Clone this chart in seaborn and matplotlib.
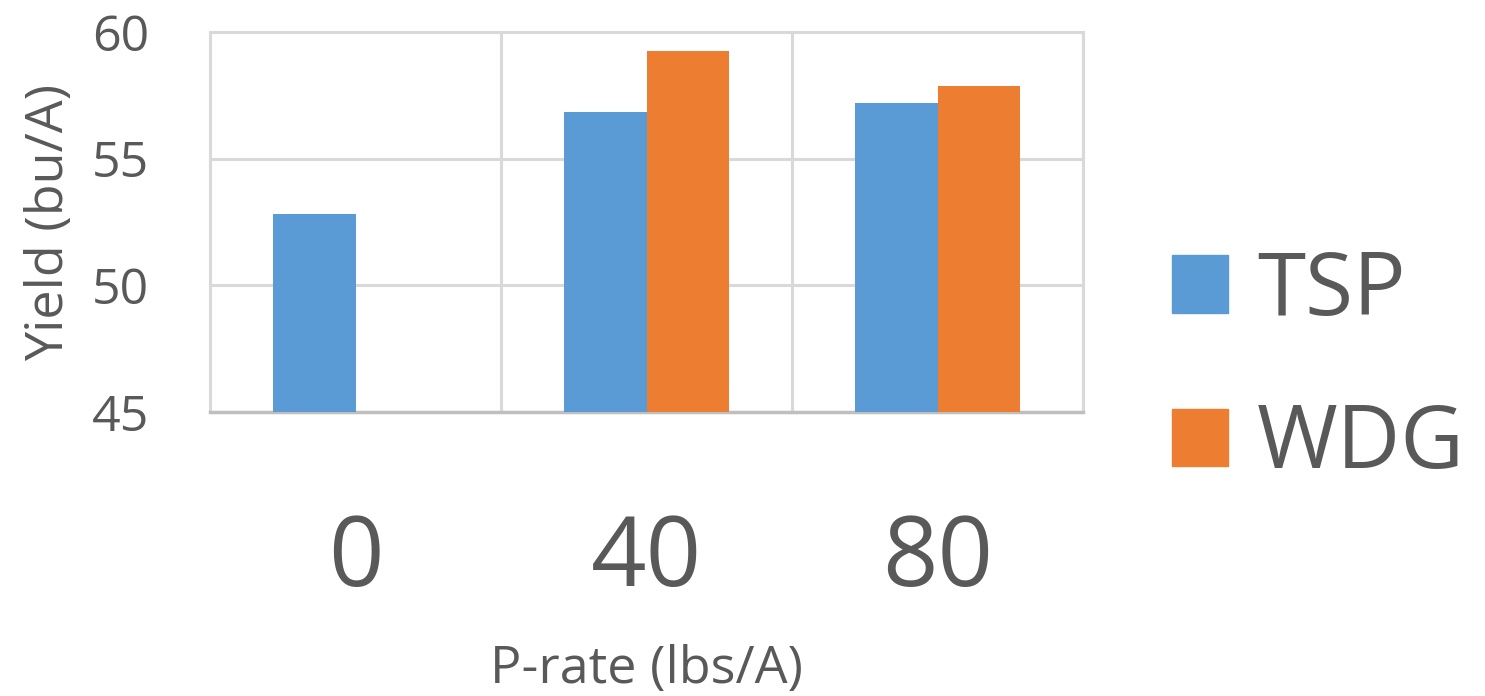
import matplotlib
matplotlib.use("Agg")
import matplotlib.pyplot as plt
import seaborn as sns
import pandas as pd
import numpy as np

categories = ["0", "40", "80"]
tsp = [52.8, 56.85, 57.2]
wdg = [np.nan, 59.25, 57.85]
series = ["TSP", "WDG"]
colors = ["#5B9BD5", "#ED7D31"]
yticks = [45, 50, 55, 60]

sns.set_theme(style="white")
plt.rcParams["font.family"] = ["Open Sans", "DejaVu Sans"]
txt = "#595959"

df = pd.DataFrame({
    "rate": categories * 2,
    "series": [series[0]] * 3 + [series[1]] * 3,
    "yield": tsp + wdg,
})

fig = plt.figure(figsize=(14.85, 6.96), dpi=100)
ax = fig.add_axes([210 / 1485, 1 - 412 / 696, (1083 - 210) / 1485, (412 - 32) / 696])

sns.barplot(data=df, x="rate", y="yield", hue="series", order=categories,
            hue_order=series, palette=colors, width=0.57, linewidth=0,
            saturation=1, errorbar=None, ax=ax, zorder=3)

ax.set_ylim(45, 60)
ax.set_xlim(-0.5, 2.5)
ax.set_yticks(yticks)
ax.set_yticklabels([str(v) for v in yticks])

grid_c = "#d9d9d9"
for y in [50, 55]:
    ax.axhline(y, color=grid_c, lw=2.2, zorder=1)
for x in [0.5, 1.5]:
    ax.axvline(x, color=grid_c, lw=2.2, zorder=1)

for s in ["top", "right", "left"]:
    ax.spines[s].set_visible(True)
    ax.spines[s].set_color(grid_c)
    ax.spines[s].set_linewidth(2.2)
ax.spines["bottom"].set_color("#bfbfbf")
ax.spines["bottom"].set_linewidth(2.5)

ax.tick_params(axis="x", length=0, pad=72, labelsize=70, labelcolor=txt)
ax.tick_params(axis="y", length=0, pad=44, labelsize=36, labelcolor=txt)

ax.set_xlabel("P-rate (lbs/A)", fontsize=37.5, color=txt, labelpad=25)
ax.set_ylabel("Yield (bu/A)", fontsize=37.5, color=txt, labelpad=12)

ax.get_legend().remove()
handles = [plt.Rectangle((0, 0), 1, 1, color=c) for c in colors]
fig.legend(handles, series, loc="center left",
           bbox_to_anchor=(1172 / 1485, 1 - 368.5 / 696),
           bbox_transform=fig.transFigure, frameon=False, fontsize=63,
           labelcolor=txt, handlelength=0.64, handleheight=0.64,
           handletextpad=0.33, labelspacing=0.75, borderpad=0,
           borderaxespad=0)

fig.savefig("out.png", dpi=100)
